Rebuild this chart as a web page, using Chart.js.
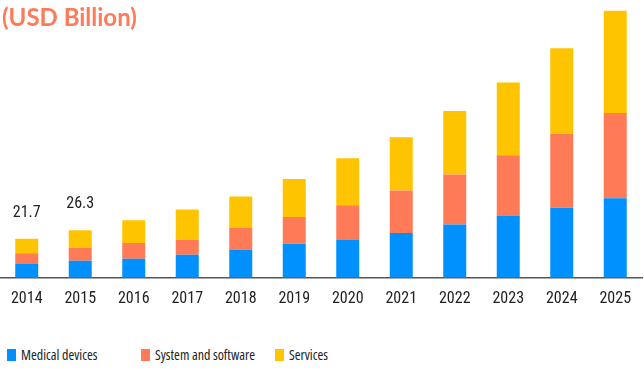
<!DOCTYPE html>
<html>
<head>
<meta charset="utf-8">
<script src="https://cdn.jsdelivr.net/npm/chart.js@4"></script>
<style>
  html, body { margin: 0; padding: 0; background: #fff; }
  #wrap { position: relative; width: 644px; height: 369px; overflow: hidden; }
  #unit { position: absolute; left: 2px; top: 2px; font-family: Lato, "Open Sans", sans-serif; font-weight: 700;
          font-size: 24px; color: #ff7a58; }
  #legend { position: absolute; left: 7px; top: 345px; display: flex;
            font-family: "Open Sans", sans-serif; font-stretch: condensed; font-size: 14px; color: #222; }
  #legend div { width: 134px; display: flex; align-items: center; white-space: nowrap; }
  #legend span.box { display: inline-block; width: 9px; height: 12px; margin-right: 5px; }
</style>
</head>
<body>
<div id="wrap">
  <canvas id="chart" width="644" height="313"></canvas>
  <div id="unit">(USD Billion)</div>
  <div id="legend"></div>
</div>
<script>
var years = ["2014", "2015", "2016", "2017", "2018", "2019", "2020", "2021", "2022", "2023", "2024", "2025"];
var medical = [7.7, 9.5, 10.6, 12.8, 15.7, 18.9, 21.3, 24.9, 29.5, 34.6, 38.9, 44.1];
var software = [5.9, 7.2, 8.7, 8.5, 12.2, 14.8, 18.9, 23.5, 27.8, 33.4, 41.0, 47.3];
var services = [8.1, 9.6, 12.6, 16.5, 17.2, 21.1, 26.1, 29.5, 35.2, 40.3, 47.3, 56.7];
var totalLabels = ["21.7", "26.3"];   // only the first two totals are printed

var seriesNames = ["Medical devices", "System and software", "Services"];
var seriesColors = ["#0091ff", "#ff7b57", "#ffc400"];
var narrow = "'Roboto Condensed', 'DejaVu Sans Condensed', sans-serif";

// totals above bars
var totalsPlugin = {
    id: "totals",
    afterDatasetsDraw: function(chart) {
        var ctx = chart.ctx;
        var top = chart.getDatasetMeta(chart.data.datasets.length - 1);
        ctx.save();
        ctx.font = "16px " + narrow;
        ctx.fillStyle = "#222";
        ctx.textAlign = "center";
        ctx.textBaseline = "alphabetic";
        totalLabels.forEach(function(txt, i) {
            var bar = top.data[i];
            ctx.fillText(txt, bar.x, bar.y - 22);
        });
        ctx.restore();
    }
};

var ctx = document.getElementById("chart").getContext("2d");
var chart = new Chart(ctx, {
    type: "bar",
    data: {
        labels: years,
        datasets: [
            { label: seriesNames[0], data: medical, backgroundColor: seriesColors[0] },
            { label: seriesNames[1], data: software, backgroundColor: seriesColors[1] },
            { label: seriesNames[2], data: services, backgroundColor: seriesColors[2] }
        ]
    },
    options: {
        responsive: false,
        animation: false,
        layout: { padding: { left: 0, right: 2, top: 0, bottom: 0 } },
        datasets: { bar: { categoryPercentage: 1, barPercentage: 0.43 } },
        plugins: { legend: { display: false }, tooltip: { enabled: false } },
        scales: {
            x: {
                stacked: true,
                grid: { display: false },
                border: { display: true, color: "#555", width: 1.5 },
                ticks: { color: "#222", padding: 4, font: { family: narrow, size: 16 } }
            },
            y: {
                stacked: true,
                display: false,
                min: 0,
                max: 154
            }
        }
    },
    plugins: [totalsPlugin]
});

// html legend, fixed-width columns like the original
var legend = document.getElementById("legend");
chart.data.datasets.forEach(function(ds) {
    var item = document.createElement("div");
    var box = document.createElement("span");
    box.className = "box";
    box.style.background = ds.backgroundColor;
    item.appendChild(box);
    item.appendChild(document.createTextNode(ds.label));
    legend.appendChild(item);
});
</script>
</body>
</html>
